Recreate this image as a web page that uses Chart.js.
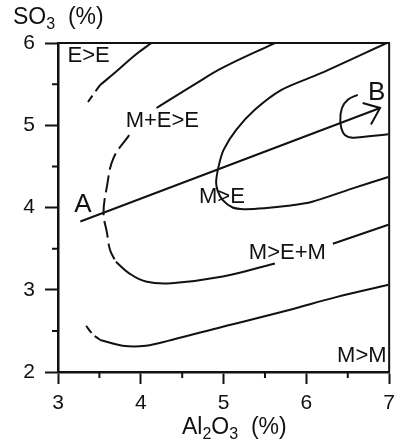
<!DOCTYPE html>
<html>
<head>
<meta charset="utf-8">
<script src="https://cdn.jsdelivr.net/npm/chart.js@4.4.0/dist/chart.umd.min.js"></script>
<style>
html,body{margin:0;padding:0;background:#fff;}
</style>
</head>
<body>
<canvas id="chart" width="402" height="443"></canvas>
<script>
// ----- data: Al2O3 (%) vs SO3 (%) -----
const xTicks = [3, 4, 5, 6, 7];
const yTicks = [2, 3, 4, 5, 6];
const xMinor = [3.5, 4.5, 5.5, 6.5];
const yMinor = [2.5, 3.5, 4.5, 5.5];

// boundary curves, [x, y] pairs
const eeSolid = [[4.13,6.0],[3.94,5.86],[3.70,5.65],[3.51,5.49]];
const eeDash = [[3.51,5.49],[3.43,5.38],[3.36,5.28]];
const meTop = [[5.62,6.0],[4.99,5.70],[4.67,5.51],[4.19,5.21]];
const meDash = [[3.86,4.88],[3.67,4.60],[3.59,4.25],[3.55,3.93],[3.59,3.70],[3.63,3.48],[3.70,3.34]];
const memLeft = [[3.70,3.34],[3.86,3.20],[4.06,3.10],[4.37,3.08],[4.99,3.16],[5.62,3.32]];
const memRight = [[6.32,3.56],[6.99,3.79]];
const mmDash = [[3.34,2.56],[3.42,2.46],[3.51,2.39]];
const mmSolid = [[3.51,2.39],[3.78,2.32],[4.06,2.32],[4.37,2.39],[4.99,2.55],[5.78,2.75],[6.36,2.91],[6.99,3.06]];
const meCurve = [[6.97,6.0],[6.17,5.63],[5.70,5.43],[5.38,5.19],[5.15,4.94],[5.00,4.70],[4.94,4.50],[4.91,4.31],[4.93,4.20],[4.99,4.09],[5.11,4.00],[5.25,3.98],[5.49,3.99],[5.78,4.02],[6.07,4.07],[6.55,4.23],[6.99,4.37]];
const loopB = [[6.62,5.37],[6.50,5.31],[6.43,5.21],[6.41,5.05],[6.45,4.90],[6.54,4.85],[6.70,4.86],[6.99,4.89]];
const pathAB = [[3.27,3.83],[6.89,5.21]];
const arrowHead = [[6.68,5.27],[6.89,5.21],[6.78,5.01]];

// region labels
const labelText = ["E>E", "M+E>E", "M>E", "M>E+M", "M>M"];
const labelX = [3.37, 4.26, 4.98, 5.77, 6.67];
const labelY = [5.84, 5.05, 4.13, 3.45, 2.19];
const pointText = ["A", "B"];
const pointX = [3.30, 6.85];
const pointY = [4.03, 5.40];

const INK = "#111";
const FONT = "'Liberation Sans', Arial, sans-serif";

function seg(pts, dash, tension){
  return {
    data: pts.map(p => ({x:p[0], y:p[1]})),
    borderColor: INK, borderWidth: 2, borderDash: dash || [],
    pointRadius: 0, fill: false, tension: tension === undefined ? 0.4 : tension
  };
}

// frame, minor ticks, labels, axis titles
const extras = {
  id: "extras",
  afterDraw(chart){
    const c = chart.ctx, a = chart.chartArea;
    const sx = chart.scales.x, sy = chart.scales.y;
    c.save();
    c.strokeStyle = INK;
    c.lineWidth = 2;
    c.beginPath();
    c.moveTo(a.left, a.top); c.lineTo(a.right, a.top); c.lineTo(a.right, a.bottom);
    c.stroke();

    c.beginPath();
    xMinor.forEach(v => { const px = sx.getPixelForValue(v); c.moveTo(px, a.bottom); c.lineTo(px, a.bottom + 6); });
    yMinor.forEach(v => { const py = sy.getPixelForValue(v); c.moveTo(a.left, py); c.lineTo(a.left - 6, py); });
    c.stroke();

    c.fillStyle = INK;
    c.textAlign = "center";
    c.textBaseline = "middle";
    c.font = "22px " + FONT;
    labelText.forEach((t, i) => c.fillText(t, sx.getPixelForValue(labelX[i]), sy.getPixelForValue(labelY[i])));
    c.font = "26px " + FONT;
    pointText.forEach((t, i) => c.fillText(t, sx.getPixelForValue(pointX[i]), sy.getPixelForValue(pointY[i])));

    // titles with subscripts
    c.textAlign = "left";
    c.textBaseline = "alphabetic";
    function sub(parts, x, y){
      parts.forEach(p => {
        c.font = (p[1] ? "16px " : "23px ") + FONT;
        c.fillText(p[0], x, y + (p[1] ? 5 : 0));
        x += c.measureText(p[0]).width;
      });
    }
    sub([["SO",0],["3",1],["  (%)",0]], 13, 24);
    sub([["Al",0],["2",1],["O",0],["3",1],["  (%)",0]], 182, 434);
    c.restore();
  }
};

new Chart(document.getElementById("chart"), {
  type: "line",
  data: {
    datasets: [
      seg(eeSolid), seg(eeDash, [8,5]),
      seg(meTop), seg(meDash, [17,6]), seg(memLeft), seg(memRight),
      seg(mmDash, [9,4]), seg(mmSolid),
      seg(meCurve, [], 0.3), seg(loopB),
      seg(pathAB, [], 0), seg(arrowHead, [], 0)
    ]
  },
  options: {
    responsive: false,
    animation: false,
    layout: { padding: { top: 43, right: 3, left: 0, bottom: 0 } },
    plugins: { legend: { display: false }, tooltip: { enabled: false } },
    scales: {
      x: {
        type: "linear", min: 3, max: 7,
        afterBuildTicks: s => { s.ticks = xTicks.map(v => ({value: v})); },
        afterFit: s => { s.height = 71; },
        grid: { drawOnChartArea: false, tickLength: 12, tickWidth: 2, tickColor: INK },
        border: { color: INK, width: 2.5 },
        ticks: { color: INK, font: { family: FONT, size: 21 }, padding: 7, maxRotation: 0 }
      },
      y: {
        type: "linear", min: 2, max: 6,
        afterBuildTicks: s => { s.ticks = yTicks.map(v => ({value: v})); },
        afterFit: s => { s.width = 58; },
        grid: { drawOnChartArea: false, tickLength: 13, tickWidth: 2, tickColor: INK },
        border: { color: INK, width: 2.5 },
        ticks: { color: INK, font: { family: FONT, size: 21 }, padding: 10 }
      }
    }
  },
  plugins: [extras]
});
</script>
</body>
</html>
